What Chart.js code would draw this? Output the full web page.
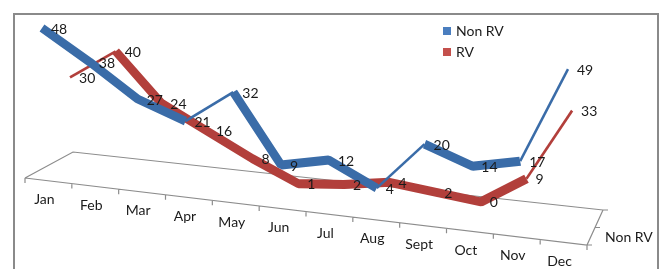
<!DOCTYPE html>
<html>
<head>
<meta charset="utf-8">
<script src="https://cdn.jsdelivr.net/npm/chart.js@4.4.1/dist/chart.umd.min.js"></script>
<style>
  html, body { margin: 0; padding: 0; background: #fff; }
  #wrap { position: relative; width: 662px; height: 269px; overflow: hidden; }
  #frame { position: absolute; left: 13px; top: 13px; width: 646px; height: 300px; border: 2px solid #8a8a8a; box-sizing: border-box; }
  canvas { position: absolute; left: 0; top: 0; }
</style>
</head>
<body>
<div id="wrap">
  <div id="frame"></div>
  <canvas id="chart" width="662" height="269"></canvas>
</div>
<script>
const months = ["Jan", "Feb", "Mar", "Apr", "May", "Jun", "Jul", "Aug", "Sept", "Oct", "Nov", "Dec"];
const nonRV = [48, 38, 27, 21, 32, 9, 12, 4, 20, 14, 17, 49];
const rv = [30, 40, 24, 16, 8, 1, 2, 4, 2, 0, 9, 33];
const depthLabel = "Non RV";

const FONT = "Lato, 'Open Sans', sans-serif";
const K = 0.084; // slant of the fake 3d floor

// ribbon gets thin where it climbs steeply (we see its edge)
function ribbonWidth(ctx) {
  const up = ctx.p1.parsed.y - ctx.p0.parsed.y;
  return up > 9.5 ? 2.5 : 9;
}

const fake3d = {
  id: 'fake3d',
  beforeDatasetsDraw(chart) {
    const ctx = chart.ctx;
    const xs = chart.scales.x, ys = chart.scales.y;
    const x0 = xs.getPixelForValue(0), xN = xs.getPixelForValue(months.length - 1);
    const y0 = ys.getPixelForValue(0);

    // floor
    const FL = [x0 - 17, y0 + 6], FR = [xN + 19, y0 + 73];
    const BL = [x0 + 31, y0 - 20], BR = [xN + 35, y0 + 38];
    ctx.save();
    ctx.strokeStyle = '#8c8c8c';
    ctx.lineWidth = 1.2;
    ctx.beginPath();
    ctx.moveTo(FL[0], FL[1]); ctx.lineTo(BL[0], BL[1]); ctx.lineTo(BR[0], BR[1]);
    ctx.moveTo(FL[0], FL[1]); ctx.lineTo(FR[0], FR[1]); ctx.lineTo(BR[0], BR[1]);
    // ticks on front axis
    const n = months.length;
    for (let i = 0; i <= n; i++) {
      const t = i / n;
      const tx = FL[0] + (FR[0] - FL[0]) * t, ty = FL[1] + (FR[1] - FL[1]) * t;
      ctx.moveTo(tx, ty); ctx.lineTo(tx, ty + 5);
    }
    // depth axis ticks
    ctx.moveTo(BR[0], BR[1]); ctx.lineTo(BR[0] + 5, BR[1]);
    ctx.moveTo((BR[0] + FR[0]) / 2, (BR[1] + FR[1]) / 2); ctx.lineTo((BR[0] + FR[0]) / 2 + 5, (BR[1] + FR[1]) / 2);
    ctx.moveTo(FR[0], FR[1]); ctx.lineTo(FR[0] + 5, FR[1]);
    ctx.stroke();

    // category labels
    ctx.fillStyle = '#1a1a1a';
    ctx.font = '14px ' + FONT;
    ctx.textAlign = 'center';
    ctx.textBaseline = 'middle';
    months.forEach((m, i) => {
      const t = (i + 0.5) / n;
      const mx = FL[0] + (FR[0] - FL[0]) * t, my = FL[1] + (FR[1] - FL[1]) * t;
      ctx.fillText(m, mx - 4, my + 19);
    });
    ctx.textAlign = 'left';
    ctx.fillText(depthLabel, BR[0] + 2, (BR[1] + FR[1]) / 2 + 10);
    ctx.restore();

    // slant everything the datasets draw
    ctx.save();
    ctx.transform(1, K, 0, 1, 0, -K * x0);
  },
  afterDatasetsDraw(chart) {
    const ctx = chart.ctx;
    ctx.restore();
    const x0 = chart.scales.x.getPixelForValue(0);

    // value labels
    ctx.save();
    ctx.fillStyle = '#1a1a1a';
    ctx.font = '14px ' + FONT;
    ctx.textAlign = 'left';
    ctx.textBaseline = 'middle';
    chart.data.datasets.forEach((ds, di) => {
      chart.getDatasetMeta(di).data.forEach((pt, i) => {
        const px = pt.x, py = pt.y + K * (pt.x - x0);
        const v = ds.data[i];
        ctx.fillText(String(typeof v === 'object' ? v.y : v), px + 9, py + 1);
      });
    });

    // legend
    chart.data.datasets.forEach((ds, di) => {
      const ly = 31 + di * 21;
      ctx.fillStyle = ds.legendColor;
      ctx.fillRect(443, ly - 4, 8, 8);
      ctx.fillStyle = '#1a1a1a';
      ctx.fillText(ds.label, 456, ly);
    });
    ctx.restore();
  }
};

new Chart(document.getElementById('chart'), {
  type: 'line',
  data: {
    labels: months,
    datasets: [
      {
        label: 'Non RV',
        data: nonRV,
        xAxisID: 'x',
        yAxisID: 'y',
        borderColor: '#3a6ca8',
        legendColor: '#4a7ebf',
        borderJoinStyle: 'bevel',
        pointRadius: 0,
        tension: 0,
        clip: false,
        segment: { borderWidth: ribbonWidth }
      },
      {
        label: 'RV',
        data: rv.map((v, i) => ({ x: i, y: v })),
        xAxisID: 'x2',
        yAxisID: 'y2',
        borderColor: '#b23f3b',
        legendColor: '#c4504c',
        borderJoinStyle: 'bevel',
        pointRadius: 0,
        tension: 0,
        clip: false,
        segment: { borderWidth: ribbonWidth }
      }
    ]
  },
  options: {
    responsive: false,
    animation: false,
    layout: { padding: { left: 42, right: 94, top: 22, bottom: 97 } },
    plugins: { legend: { display: false }, tooltip: { enabled: false } },
    scales: {
      x: { type: 'category', display: false, offset: false },
      x2: { type: 'linear', display: false, min: -0.614, max: 10.91 },
      y: { display: false, min: 0, max: 50 },
      y2: { display: false, min: -2.3, max: 47.7 }
    }
  },
  plugins: [fake3d]
});
</script>
</body>
</html>
